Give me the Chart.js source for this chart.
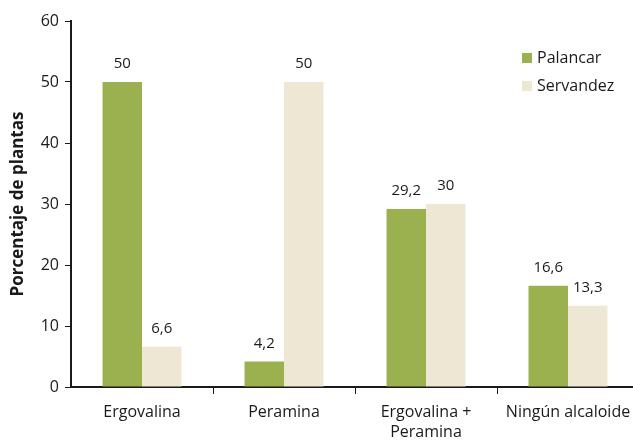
<!DOCTYPE html>
<html>
<head>
<meta charset="utf-8">
<script src="https://cdn.jsdelivr.net/npm/chart.js@4/dist/chart.umd.min.js"></script>
<style>
  html, body { margin: 0; padding: 0; background: #fff; overflow: hidden; }
  #marco { width: 633px; height: 441px; overflow: hidden; }
</style>
</head>
<body>
<div id="marco"><canvas id="alcaloides" width="640" height="441"></canvas></div>
<script>
var categorias = ['Ergovalina', 'Peramina', ['Ergovalina +', 'Peramina'], 'Ningún alcaloide'];
var palancar = [50, 4.2, 29.2, 16.6];
var servandez = [6.6, 50, 30, 13.3];
var ticksY = [0, 10, 20, 30, 40, 50, 60];

var verde = '#9bb04f';
var crema = '#ede7d4';
var tinta = '#1a1a1a';

Chart.defaults.font.family = '"Open Sans", sans-serif';
Chart.defaults.font.size = 16;
Chart.defaults.color = tinta;

// valores encima de cada barra, con coma decimal
var etiquetas = {
    id: 'etiquetas',
    afterDatasetsDraw: function(chart) {
        var ctx = chart.ctx;
        ctx.save();
        ctx.font = '15px "Open Sans"';
        ctx.fillStyle = tinta;
        ctx.textAlign = 'center';
        ctx.textBaseline = 'middle';
        chart.data.datasets.forEach(function(ds, i) {
            chart.getDatasetMeta(i).data.forEach(function(bar, j) {
                ctx.fillText(String(ds.data[j]).replace('.', ','), bar.x, bar.y - 18);
            });
        });
        ctx.restore();
    }
};

// leyenda dentro del area del grafico, arriba a la derecha
var leyenda = {
    id: 'leyenda',
    afterDraw: function(chart) {
        var ctx = chart.ctx;
        ctx.save();
        ctx.font = '16px "Open Sans"';
        ctx.textBaseline = 'middle';
        ctx.textAlign = 'left';
        chart.data.datasets.forEach(function(ds, i) {
            var y = 58 + i * 28;
            ctx.fillStyle = ds.backgroundColor;
            ctx.fillRect(522, y - 5, 10, 10);
            ctx.fillStyle = tinta;
            ctx.fillText(ds.label, 537, y);
        });
        ctx.restore();
    }
};

new Chart(document.getElementById('alcaloides'), {
    type: 'bar',
    data: {
        labels: categorias,
        datasets: [
            { label: 'Palancar', data: palancar, backgroundColor: verde },
            { label: 'Servandez', data: servandez, backgroundColor: crema }
        ]
    },
    options: {
        responsive: false,
        animation: false,
        layout: { padding: { top: 21, right: 1, bottom: 0, left: 0 } },
        datasets: { bar: { categoryPercentage: 0.556, barPercentage: 1 } },
        plugins: { legend: { display: false }, tooltip: { enabled: false } },
        scales: {
            x: {
                afterFit: function(s) { s.height = 54; },
                grid: {
                    offset: true,
                    drawOnChartArea: false,
                    tickLength: 7,
                    color: function(c) { return c.index === 0 ? 'rgba(0,0,0,0)' : tinta; }
                },
                border: { color: tinta, width: 2 },
                ticks: { padding: 8, maxRotation: 0, autoSkip: false, font: { lineHeight: 1.25 } }
            },
            y: {
                min: 0,
                max: 60,
                afterFit: function(s) { s.width = 71; },
                afterBuildTicks: function(s) { s.ticks = ticksY.map(function(v) { return { value: v }; }); },
                grid: { drawOnChartArea: false, tickLength: 6, color: tinta },
                border: { color: tinta, width: 2 },
                ticks: { padding: 6 },
                title: {
                    display: true,
                    text: 'Porcentaje de plantas',
                    font: { size: 17, weight: 'bold' },
                    padding: { top: 8, bottom: 0 }
                }
            }
        }
    },
    plugins: [etiquetas, leyenda]
});
</script>
</body>
</html>
